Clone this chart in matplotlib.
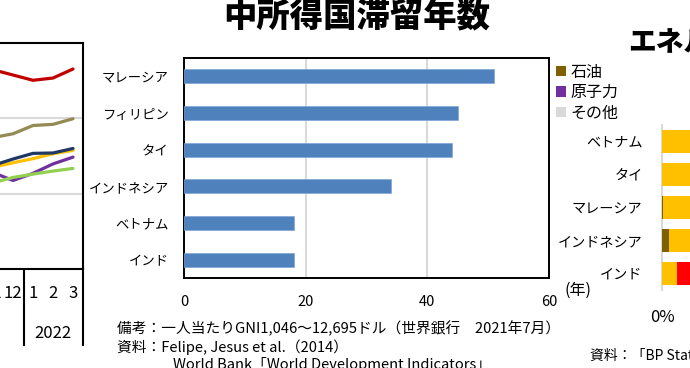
import numpy as np
import matplotlib
matplotlib.use("Agg")
import matplotlib.pyplot as plt

plt.rcParams['font.family'] = ['Noto Sans CJK JP', 'DejaVu Sans']

# 中央：中所得国滞留年数
countries = ["マレーシア", "フィリピン", "タイ", "インドネシア", "ベトナム", "インド"]
years = [51, 45, 44, 34, 18, 18]
xticks_main = [0, 20, 40, 60]

# 左側（切れている折れ線グラフ）
months_left = ["11", "12", "1", "2", "3"]
series_left = {
    "#c00000": [132.9, 131.5, 130.1, 130.7, 133.1],
    "#948a54": [114.9, 115.9, 118.1, 118.4, 119.9],
    "#ffc000": [107.0, 108.2, 109.3, 110.6, 111.5],
    "#1f3864": [107.5, 109.2, 110.7, 110.8, 112.0],
    "#7030a0": [105.6, 103.5, 105.4, 107.9, 109.7],
    "#92d050": [102.9, 104.3, 105.2, 106.0, 106.7],
}

# 右側（切れている電源構成グラフ, %）
countries_r = ["ベトナム", "タイ", "マレーシア", "インドネシア", "インド"]
sources = ["石油", "天然ガス", "石炭", "原子力", "水力", "その他"]
src_colors = ["#7f6000", "#ffc000", "#ff0000", "#7030a0", "#5b9bd5", "#d9d9d9"]
mix = {
    "石油":   [0.0, 0.0, 0.3, 1.8, 0.0],
    "天然ガス": [11.0, 60.0, 40.0, 17.0, 3.8],
    "石炭":   [50.0, 19.0, 45.0, 62.0, 74.0],
    "原子力":  [0.0, 0.0, 0.0, 0.0, 3.2],
    "水力":   [30.0, 2.0, 12.0, 7.0, 9.0],
    "その他":  [9.0, 19.0, 2.7, 12.2, 10.0],
}

W, H = 690, 368
fig = plt.figure(figsize=(W / 100, H / 100), dpi=100)

def px(x0, y0, x1, y1):
    return [x0 / W, 1 - y1 / H, (x1 - x0) / W, (y1 - y0) / H]

# overlay for decorations
ov = fig.add_axes([0, 0, 1, 1])
ov.set_xlim(0, W)
ov.set_ylim(H, 0)
ov.axis('off')

# ---- main chart ----
ax = fig.add_axes(px(184, 58, 549, 278))
ypos = np.arange(len(countries))
ax.barh(ypos, years, height=0.38, color="#4f81bd", edgecolor="#7ea6d8", linewidth=0.5, zorder=3)
ax.set_ylim(len(countries) - 0.5, -0.5)
ax.set_xlim(0, 60)
ax.set_xticks(xticks_main)
ax.set_yticks(ypos)
ax.set_yticklabels(countries)
ax.tick_params(length=0)
ax.tick_params(axis='x', pad=12, labelsize=10.5)
ax.tick_params(axis='y', pad=11, labelsize=9.6)
ax.grid(axis='x', color="#d9d9d9", linewidth=1.5, zorder=0)
for s in ax.spines.values():
    s.set_linewidth(1.4)
    s.set_color("black")

ov.text(357, 17, "中所得国滞留年数", ha='center', va='center', fontsize=24, fontweight='heavy')
ov.text(565, 290, "(年)", ha='left', va='center', fontsize=11.5)
ov.text(117, 329, "備考：一人当たりGNI1,046～12,695ドル（世界銀行　2021年7月）", ha='left', va='center', fontsize=10.6)
ov.text(117, 347, "資料：Felipe, Jesus et al.（2014）", ha='left', va='center', fontsize=10.6)
ov.text(173, 365, "World Bank「World Development Indicators」", ha='left', va='center', fontsize=10.6)

# ---- left fragment ----
axl = fig.add_axes(px(-300, 43, 83, 269))
xl = np.arange(len(months_left))
for c, v in series_left.items():
    axl.plot(xl, v, color=c, linewidth=2.3, solid_capstyle='round', zorder=3)
axl.set_xlim(4.5 - 383 / 20, 4.5)
axl.set_ylim(80, 140)
axl.set_yticks([100, 120])
axl.grid(axis='y', color="#d9d9d9", linewidth=1.5, zorder=0)
axl.set_xticks([])
axl.tick_params(length=0, labelleft=False)
for s in axl.spines.values():
    s.set_linewidth(1.5)
for i, m in enumerate(months_left):
    ov.text(73 - 20 * (4 - i), 293, m, ha='center', va='center', fontsize=12)
ov.text(53, 333, "2022", ha='center', va='center', fontsize=12)
ov.plot([24, 24], [269, 345], color='black', linewidth=1.5)
ov.plot([83, 83], [269, 345], color='black', linewidth=1.5)

# ---- right fragment ----
axr = fig.add_axes(px(662, 125, 1062, 290))
yr = np.arange(len(countries_r))
left = np.zeros(len(countries_r))
handles = {}
for name, col in zip(sources, src_colors):
    vals = np.array(mix[name])
    b = axr.barh(yr, vals, left=left, height=0.7, color=col, zorder=3)
    handles[name] = b
    left += vals
axr.set_ylim(len(countries_r) - 0.5, -0.5)
axr.set_xlim(0, 100)
axr.set_xticks([0])
axr.set_xticklabels(["0%"])
axr.set_yticks(yr)
axr.set_yticklabels(countries_r)
axr.tick_params(length=0)
axr.tick_params(axis='x', pad=14, labelsize=12)
axr.tick_params(axis='y', pad=14, labelsize=10.2)
for k in ["top", "right", "bottom"]:
    axr.spines[k].set_visible(False)
axr.spines["left"].set_color("#d9d9d9")
axr.spines["left"].set_linewidth(1.5)

leg_names = ["石油", "原子力", "その他"]
fig.legend([handles[n] for n in leg_names], leg_names,
           loc='upper left', bbox_to_anchor=(556 / W, 1 - 64 / H),
           frameon=False, fontsize=11.5, handlelength=0.6, handleheight=0.6,
           handletextpad=0.3, labelspacing=0.2, borderaxespad=0, borderpad=0)

ov.text(628, 43, "エネルギー別構成", ha='left', va='center', fontsize=20, fontweight='heavy')
ov.text(590, 355, "資料：「BP Statistical Review of World Energy」", ha='left', va='center', fontsize=10)

fig.savefig("out.png", dpi=100)
